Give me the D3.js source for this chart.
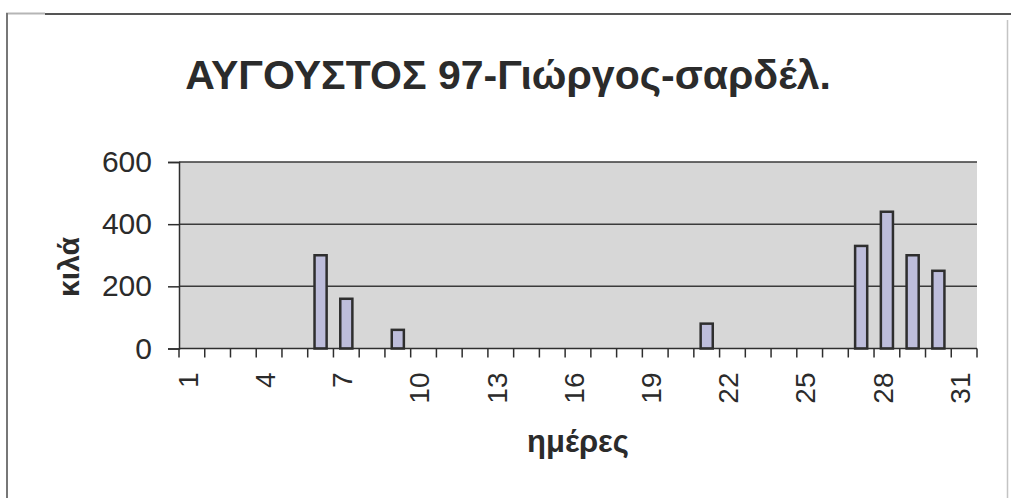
<!DOCTYPE html>
<html>
<head>
<meta charset="utf-8">
<script src="https://cdn.jsdelivr.net/npm/d3@7"></script>
<style>
  html, body { margin: 0; padding: 0; background: #fff; }
  svg { display: block; }
  text { font-family: "Liberation Sans", Arial, sans-serif; fill: #2b2b2b; }
</style>
</head>
<body>
<svg id="chart" width="1011" height="498"></svg>
<script>
// Daily catch (kg) for August 1997
const days = d3.range(1, 32);
const catchDays = [6, 7, 9, 21, 27, 28, 29, 30];
const catchKg   = [300, 160, 60, 80, 330, 440, 300, 250];
const yTicks = [0, 200, 400, 600];
const xLabelDays = [1, 4, 7, 10, 13, 16, 19, 22, 25, 28, 31];

const titleText = "ΑΥΓΟΥΣΤΟΣ 97-Γιώργος-σαρδέλ.";
const yTitle = "κιλά";
const xTitle = "ημέρες";

const kgByDay = new Map(catchDays.map((d, i) => [d, catchKg[i]]));
const series = days.map(d => ({ day: d, kg: kgByDay.get(d) || 0 }));

const svg = d3.select("#chart");
const plot = { left: 179, right: 977, top: 162, bottom: 348.5 };

// Outer frame
const frame = svg.append("g").attr("fill", "none");
frame.append("line").attr("x1", 6).attr("x2", 45).attr("y1", 13.5).attr("y2", 13.5)
  .attr("stroke", "#b5b5b5").attr("stroke-width", 2);
frame.append("line").attr("x1", 45).attr("x2", 1011).attr("y1", 14).attr("y2", 14)
  .attr("stroke", "#555").attr("stroke-width", 2);
frame.append("line").attr("x1", 7).attr("x2", 7).attr("y1", 13).attr("y2", 498)
  .attr("stroke", "#777").attr("stroke-width", 2);
frame.append("line").attr("x1", 1007.5).attr("x2", 1007.5).attr("y1", 20).attr("y2", 498)
  .attr("stroke", "#c4c4c4").attr("stroke-width", 1.5);

const pad = 0.53;
const x = d3.scaleBand()
  .domain(days)
  .range([plot.left, plot.right])
  .paddingInner(pad)
  .paddingOuter(pad / 2);

const y = d3.scaleLinear()
  .domain([0, 600])
  .range([plot.bottom, plot.top]);

// Plot area background
svg.append("rect")
  .attr("x", plot.left).attr("y", y(600))
  .attr("width", plot.right - plot.left)
  .attr("height", y(0) - y(600))
  .attr("fill", "#d7d7d7");

// Horizontal gridlines
svg.append("g")
  .selectAll("line")
  .data(yTicks.filter(v => v > 0))
  .join("line")
  .attr("x1", plot.left).attr("x2", plot.right)
  .attr("y1", d => y(d)).attr("y2", d => y(d))
  .attr("stroke", "#3a3a3a").attr("stroke-width", 1.5);

// Bars
svg.append("g")
  .selectAll("rect")
  .data(series.filter(d => d.kg > 0))
  .join("rect")
  .attr("x", d => x(d.day))
  .attr("y", d => y(d.kg))
  .attr("width", x.bandwidth())
  .attr("height", d => y(0) - y(d.kg))
  .attr("fill", "#bdbddb")
  .attr("stroke", "#2e2e2e")
  .attr("stroke-width", 2.5);

// Y axis
const yAxis = svg.append("g")
  .attr("transform", `translate(${plot.left},0)`)
  .call(d3.axisLeft(y).tickValues(yTicks).tickSize(11).tickPadding(16).tickFormat(d3.format("d")));
yAxis.select(".domain").attr("stroke", "#2e2e2e").attr("stroke-width", 1.5);
yAxis.selectAll(".tick line").attr("stroke", "#2e2e2e").attr("stroke-width", 1.5);
yAxis.selectAll(".tick text")
  .attr("font-size", 30)
  .attr("font-family", "'Liberation Sans', Arial, sans-serif")
  .attr("fill", "#2b2b2b");

// X axis: tick marks sit on category boundaries
const step = x.step();
const boundaries = days.map(d => x(d) - step * pad / 2).concat([plot.right]);
const xAxis = svg.append("g").attr("transform", `translate(0,${plot.bottom})`);
xAxis.append("line")
  .attr("x1", plot.left).attr("x2", plot.right)
  .attr("stroke", "#2e2e2e").attr("stroke-width", 1.5);
xAxis.selectAll("line.tk")
  .data(boundaries)
  .join("line")
  .attr("class", "tk")
  .attr("x1", d => d).attr("x2", d => d)
  .attr("y1", 0).attr("y2", 9)
  .attr("stroke", "#2e2e2e").attr("stroke-width", 1.5);

const labelAxis = svg.append("g")
  .attr("transform", `translate(0,${plot.bottom})`)
  .call(d3.axisBottom(x).tickValues(xLabelDays).tickSize(0).tickPadding(0));
labelAxis.select(".domain").remove();
labelAxis.selectAll(".tick text")
  .attr("font-size", 28)
  .attr("font-family", "'Liberation Sans', Arial, sans-serif")
  .attr("fill", "#2b2b2b")
  .attr("text-anchor", "end")
  .attr("transform", "translate(-4,24) rotate(-90)")
  .attr("x", 0)
  .attr("y", 0)
  .attr("dy", "0.35em");

// Title
svg.append("text")
  .attr("x", 508).attr("y", 89)
  .attr("text-anchor", "middle")
  .attr("font-size", 41)
  .attr("font-weight", "bold")
  .text(titleText);

// Axis titles
svg.append("text")
  .attr("transform", "translate(79,267) rotate(-90)")
  .attr("text-anchor", "middle")
  .attr("font-size", 30)
  .attr("font-weight", "bold")
  .text(yTitle);

svg.append("text")
  .attr("x", 578).attr("y", 452)
  .attr("text-anchor", "middle")
  .attr("font-size", 31)
  .attr("font-weight", "bold")
  .text(xTitle);
</script>
</body>
</html>
